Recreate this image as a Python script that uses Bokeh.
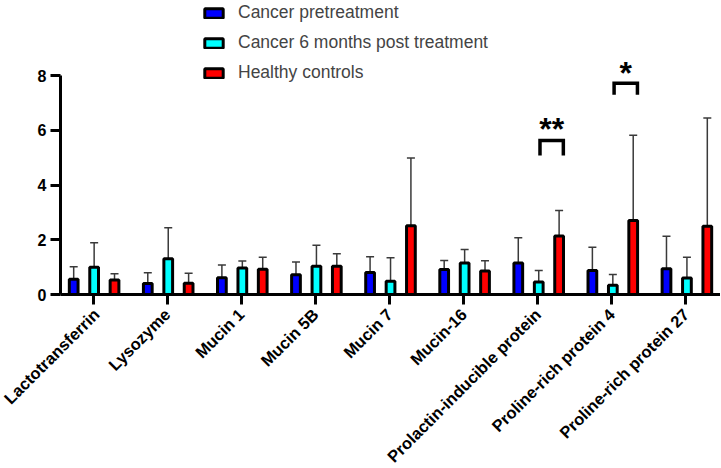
import numpy as np
from math import pi
from bokeh.plotting import figure
from bokeh.models import (ColumnDataSource, Range1d, FixedTicker, Whisker, TeeHead,
                          Legend, LegendItem)
from bokeh.core.properties import value
from bokeh.embed import file_html
from bokeh.resources import INLINE

categories = ["Lactotransferrin", "Lysozyme", "Mucin 1", "Mucin 5B", "Mucin 7",
              "Mucin-16", "Prolactin-inducible protein", "Proline-rich protein 4",
              "Proline-rich protein 27"]
series_names = ["Cancer pretreatment", "Cancer 6 months post treatment", "Healthy controls"]
pre = [0.56, 0.40, 0.61, 0.72, 0.80, 0.91, 1.15, 0.88, 0.94]
post = [1.00, 1.31, 0.97, 1.03, 0.48, 1.15, 0.46, 0.34, 0.60]
healthy = [0.53, 0.41, 0.92, 1.03, 2.51, 0.86, 2.14, 2.70, 2.49]
pre_err = [1.01, 0.79, 1.08, 1.19, 1.38, 1.24, 2.07, 1.73, 2.13]
post_err = [1.89, 2.44, 1.22, 1.80, 1.34, 1.64, 0.88, 0.73, 1.36]
healthy_err = [0.76, 0.78, 1.36, 1.49, 4.99, 1.23, 3.07, 5.82, 6.45]
y_ticks = [0, 2, 4, 6, 8]

# significance annotations
sig_category = [6, 7]
sig_label = ["**", "*"]
sig_bracket_top = [5.63, 7.72]
sig_bracket_bottom = [5.08, 7.30]
sig_text_y = [6.04, 8.09]

colors = ["#0000FF", "#00FFFF", "#FF0000"]
offsets = [-0.263, 0.013, 0.288]
FONT = "Liberation Sans"

p = figure(frame_width=660, frame_height=294, output_backend="svg", toolbar_location=None,
           x_range=Range1d(-0.441, 8.466), y_range=Range1d(0, 10.74),
           min_border_left=60, min_border_right=0, min_border_top=0,
           min_border_bottom=0)
p.outline_line_color = None
p.xgrid.visible = False
p.ygrid.visible = False

idx = np.arange(len(categories))
renderers = []
for vals, errs, col, off in zip([pre, post, healthy], [pre_err, post_err, healthy_err],
                                colors, offsets):
    src = ColumnDataSource(dict(x=idx + off, top=vals, err=errs))
    w = Whisker(base="x", lower="top", upper="err", source=src,
                line_color="#3a3a3a", line_width=1.5,
                upper_head=TeeHead(size=8, line_color="#3a3a3a", line_width=1.5),
                lower_head=None)
    p.add_layout(w)
    r = p.vbar(x="x", top="top", bottom=0, width=0.118, source=src,
               fill_color=col, line_color="black", line_width=3)
    renderers.append(r)

# brackets
bx0, bx1 = 0.03, 0.345
xs, ys = [], []
for c, t, b in zip(sig_category, sig_bracket_top, sig_bracket_bottom):
    xs.append([c + bx0, c + bx0, c + bx1, c + bx1])
    ys.append([b, t, t, b])
p.multi_line(xs=xs, ys=ys, line_color="black", line_width=3.5, line_join="miter")
p.text(x=[c + (bx0 + bx1) / 2 for c in sig_category], y=sig_text_y, text=sig_label,
       text_font=value(FONT), text_font_style="bold", text_font_size="32px",
       text_align="center", text_baseline="middle", text_color="black")

# axes
for ax in (p.xaxis[0], p.yaxis[0]):
    ax.axis_line_width = 3
    ax.major_tick_line_width = 3
    ax.major_tick_out = 10
    ax.major_tick_in = 0
    ax.minor_tick_line_color = None
    ax.major_label_text_font = FONT
    ax.major_label_text_font_style = "bold"
    ax.major_label_text_color = "black"

p.yaxis.ticker = FixedTicker(ticks=y_ticks)
p.yaxis.bounds = (0, 8)
p.yaxis.major_label_standoff = 4
p.yaxis.major_label_text_font_size = "16px"

p.xaxis.ticker = FixedTicker(ticks=list(idx))
p.xaxis.major_label_overrides = {int(i): c for i, c in zip(idx, categories)}
p.xaxis.major_label_orientation = pi / 4
p.xaxis.major_label_standoff = 7
p.xaxis.major_label_text_font_size = "16.5px"

legend = Legend(items=[LegendItem(label=n, renderers=[r]) for n, r in zip(series_names, renderers)],
                location=(142, 211), orientation="vertical",
                glyph_width=23, glyph_height=12, label_height=20, spacing=9,
                label_standoff=13, padding=0, margin=0,
                label_text_font=FONT, label_text_font_size="17.5px",
                border_line_color=None, background_fill_alpha=0)
p.add_layout(legend, "center")

open("out.html", "w").write(file_html(p, INLINE))
